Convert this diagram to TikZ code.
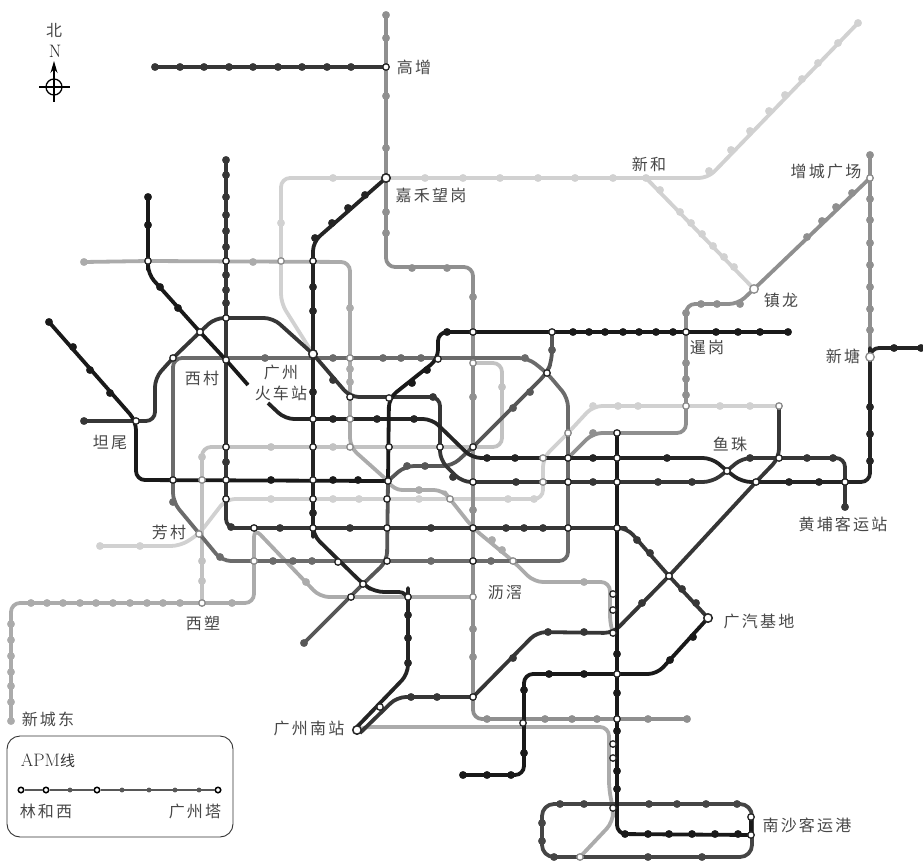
\documentclass[tikz,border=0pt]{standalone}
\usepackage{fontspec}
\usepackage{tikz}
\usetikzlibrary{arrows.meta}
\newfontfamily\cjk[LetterSpace=14]{Noto Sans CJK SC}
\definecolor{lnblack}{gray}{0.10}
\definecolor{lnink}{gray}{0.14}
\definecolor{lndark}{gray}{0.21}
\definecolor{lnloop}{gray}{0.27}
\definecolor{lnmid}{gray}{0.34}
\definecolor{lnring}{gray}{0.42}
\definecolor{lngray}{gray}{0.56}
\definecolor{lnsoft}{gray}{0.67}
\definecolor{lnhaze}{gray}{0.76}
\definecolor{lnpale}{gray}{0.82}
\newcommand{\stops}[2]{\path[draw=#1,fill=#1] plot[only marks,mark=*,mark size=3.7pt] coordinates {#2};}

\begin{document}
\begin{tikzpicture}[
  x=1pt, y=-1pt,
  metro/.style={line width=3.8pt, rounded corners=9pt, line join=round},
  hub/.style={circle, fill=white, draw=black!85, line width=1.3pt, inner sep=0pt, minimum size=6.5pt},
  hublt/.style={hub, draw=black!45},
  hubbig/.style={hub, minimum size=8.5pt, line width=1.5pt},
  ring/.style={circle, fill=white, draw=black, line width=1.5pt, inner sep=0pt, minimum size=5.5pt},
  lbl/.style={font=\fontsize{16}{21}\selectfont\cjk, text=black!72, align=center, inner sep=0pt}
]
\useasboundingbox (0,0) rectangle (923,861);

% stations
\foreach \n/\x/\y in {gaozeng/386/67, jiahe/386/178, xinhe/646/178, zengcheng/870/178, zhenlong/754/289,
  xiangang/686/332, xintang/870/357, tanwei/136/421, xicun/226/360, gzhuoche/313/354, yuzhu/727/471,
  huangpu/845/482, fangcun/199/534, xisu/202/603, lijiao/473/597, guangqi/708/618, gznan/357/730,
  nsa/751/817, nsb/751/835}
  {\coordinate (\n) at (\x,\y);}
\foreach \n/\x/\y in {a148/148/261, a226/226/261, a281/281/261, a313/313/261, b226/226/318, b200/200/332,
  c173/173/358, c350/350/358, c438/438/359, c473/473/332, c552/552/332, c547/547/373, d473/473/363,
  e389/389/398, e350/350/397, f313/313/419, f350/350/419, g226/226/447, g313/313/447, g350/350/447,
  g389/389/447, g440/440/447, g473/473/447, h568/568/433, h617/617/433, h687/686/406, h779/779/406,
  i173/173/480, i202/202/480, i226/226/480, i313/313/480, i387/388/481, j543/543/458, j568/568/458,
  j617/617/458, j779/779/458, k473/473/482, k543/543/482, k568/568/482, k617/617/482, k756/756/482,
  l226/226/499, l313/313/499, l387/387/499, l450/450/499, m254/254/528, m313/313/528, m387/387/528,
  m473/473/528, m568/568/528, m617/617/528, o254/254/561, o338/338/562, o387/387/561, o473/473/561,
  o513/513/561, p363/363/584, p351/351/597, p408/408/597, q669/669/576, q613a/613/594, q613b/613/610,
  q613c/613/633, r617/617/674, r473/473/697, r380/380/707, s617/617/719, s523/523/723, s613a/613/744,
  s613b/613/758, s613c/613/808, s580/580/857}
  {\coordinate (\n) at (\x,\y);}
% free line ends
\foreach \n/\x/\y in {endna/858/23, endnb/386/15, endnc/155/67, endnd/870/155, endne/790/332, endnf/923/348,
  endng/845/507, endnh/84/262, endni/84/421, endnj/49/322, endnk/148/197, endnl/226/160, endnm/248/385,
  endno/268/403, endnp/100/546, endnq/11/721, endnr/687/719, endns/304/643, endnt/463/775}
  {\coordinate (\n) at (\x,\y);}

% pale lines first
\draw[metro, lnpale] (endna) -- (708,178) -- (xinhe) -- (jiahe) -- (281,178) -- (281,303) -- (gzhuoche);
\draw[metro, lnpale] (xinhe) -- (zhenlong);
\draw[metro, lnpale] (endnp) -- (180,546) -- (fangcun) -- (l226) -- (l450) -- (543,499) -- (j543) -- (h568) -- (593,406) -- (h779);
\draw[metro, lnhaze] (d473) -- (502,363) -- (502,447) -- (202,447) -- (xisu);
\draw[metro, lnsoft] (endnq) -- (11,603) -- (xisu) -- (254,603) -- (m254) -- (320,597) -- (lijiao);
\draw[metro, lnsoft] (endnh) -- (a148) -- (350,262) -- (c350) -- (g350) -- (i387);
\draw[metro, lnsoft] (i387) -- (393,490) -- (443,490) -- (l450) -- (m473) -- (o513) -- (534,582) -- (610,582) -- (610,625) -- (q613c);
\draw[metro, lnsoft] (gznan) -- (362,727) -- (609,727) -- (609,790) -- (s613c) -- (613,822) -- (s580);
\draw[metro, lngray] (endnb) -- (gaozeng) -- (386,267) -- (473,267) -- (473,719) -- (endnr);
\draw[metro, lngray] (endnd) -- (zengcheng) -- (xintang);
\draw[metro, lngray] (zengcheng) -- (zhenlong) -- (738,304) -- (686,304) -- (686,433) -- (593,433) -- (j568);
% ring and the darker lines
\draw[metro, lnring] (c173) -- (528,358) -- (c547) -- (568,398) -- (568,561) -- (222,561) -- (173,502) -- cycle;
\draw[metro, lnmid] (c552) -- (552,360) -- (c547) -- (g473) -- (452,466) -- (405,466) -- (i387);
\draw[metro, lnmid] (i387) -- (o387) -- (p363) -- (endns);
\draw[metro, lnloop, rounded corners=12pt] (542,804) rectangle (752,857);
\draw[metro, lndark] (endnc) -- (gaozeng);
\draw[metro, lndark] (endnl) -- (226,528) -- (m617) -- (627,528) -- (q669) -- (guangqi);
\draw[metro, lndark] (r473) -- (537,632) -- (q613c) -- (q669) -- (k756) -- (j779) -- (h779);
\draw[metro, lndark] (r473) -- (397,697) -- (360,733);
\draw[metro, lndark] (endni) -- (155,421) -- (155,378) -- (c173) -- (b200) -- (215,318) -- (273,318) -- (gzhuoche) -- (e350) -- (440,397) -- (440,460) -- (462,482) -- (712,482) -- (yuzhu) -- (742,458) -- (845,458) -- (endng);
\draw[metro, lnink] (endno) -- (285,419) -- (432,419) -- (472,458) -- (712,458) -- (yuzhu) -- (742,482) -- (870,482) -- (xintang) -- (870,348) -- (endnf);
\draw[metro, lnink] (jiahe) -- (313,242) -- (m313) -- (313,535) -- (p363) -- (375,592) -- (408,592) -- (p408) -- (408,674) -- (355,729);
\draw[metro, lnblack] (endnj) -- (tanwei) -- (136,480) -- (i387);
\draw[metro, lnblack] (i387) -- (e389) -- (c438) -- (438,332) -- (endne);
\draw[metro, lnblack] (endnk) -- (a148) -- (148,274) -- (b200) -- (xicun) -- (endnm);
\draw[metro, lnblack] (guangqi) -- (657,674) -- (524,674) -- (524,775) -- (endnt);
\draw[metro, lnblack] (h617) -- (617,834) -- (nsb);
\draw[metro, lnblack] (nsa) -- (nsb);

% small stops along each line
\stops{lndark}{(155,67)(180,67)(204,67)(229,67)(253,67)(278,67)(302,67)(327,67)(351,67)}
\stops{lngray}{(386,15)(386,38)(386,96)(386,148)(386,212)(386,233)(412,268)(447,268)(473,297)(473,397)(473,510)(473,629)(473,657)(487,719)(545,719)(572,719)(597,719)(648,719)(687,719)}
\stops{lnpale}{(858,23)(838,43)(818,63)(802,79)(785,95)(769,111)(750,131)(731,150)(709,171)(646,178)(613,178)(575,178)(538,178)(500,178)(463,178)(425,178)(333,178)(281,223)}
\stops{lnpale}{(660,190)(680,212)(691,223)(702,234)(713,246)(724,257)(734,267)}
\stops{lnpale}{(100,546)(140,546)(271,499)(333,499)(359,499)(419,499)(508,499)(534,499)(593,406)(618,406)(638,406)(720,406)(750,406)}
\stops{lnhaze}{(271,447)(333,447)(502,387)(202,457)(202,561)(202,581)}
\stops{lnsoft}{(232,603)(180,603)(163,603)(147,603)(130,603)(113,603)(96,603)(80,603)(63,603)(47,603)(31,603)(11,624)(11,640)(11,656)(11,672)(11,686)(11,702)(11,721)(306,582)}
\stops{lnsoft}{(84,262)(253,262)(350,308)(350,369)(350,382)(419,490)(492,540)(502,550)(584,582)}
\stops{lngray}{(852,193)(836,207)(822,221)(807,237)(740,304)(717,304)(701,304)(686,313)(686,363)(686,379)(686,395)(593,433)}
\stops{lngray}{(870,155)(870,199)(870,220)(870,243)(870,265)(870,287)(870,309)(870,330)}
\stops{lnring}{(265,358)(333,358)(383,358)(401,358)(421,358)(525,358)(273,561)(293,561)(312,561)(431,561)(491,561)(173,502)(220,557)}
\stops{lnmid}{(552,350)(530,392)(513,408)(425,466)(407,466)(304,643)}
\stops{lnloop}{(560,804)(584,804)(649,804)(677,804)(706,804)(737,804)(542,823)(542,841)(554,857)(648,857)(702,857)}
\stops{lndark}{(226,160)(226,175)(226,197)(226,215)(226,231)(226,247)(226,275)(226,290)(226,303)(226,462)(231,527)(280,528)(350,528)(431,528)(506,528)(524,528)(543,528)(637,540)(650,553)(682,589)(696,603)}
\stops{lndark}{(513,658)(548,632)(584,632)(642,603)(411,697)(437,697)}
\stops{lndark}{(84,421)(333,380)(433,397)(453,477)(516,482)(593,482)(658,482)(692,482)(750,458)(807,458)(833,458)(845,507)}
\stops{lnink}{(870,407)(870,434)(870,461)(894,348)(921,348)(333,419)(377,419)(414,419)(487,458)(515,458)(593,458)(667,458)(789,482)(819,482)}
\stops{lnink}{(365,195)(348,208)(332,223)(315,238)(313,287)(313,311)(313,392)(313,513)(408,615)(408,638)(408,663)}
\stops{lnblack}{(49,322)(73,347)(90,370)(110,393)(271,480)(333,480)(358,480)(427,370)(412,383)(447,332)(573,332)(589,332)(605,332)(623,332)(639,332)(656,332)(673,332)(716,332)(738,332)(760,332)(788,332)}
\stops{lnblack}{(148,197)(148,225)(160,287)(178,308)}
\stops{lnblack}{(584,674)(549,674)(670,660)(693,637)(524,690)(524,753)(511,775)(487,775)(463,775)}
\stops{lnblack}{(617,654)(617,693)(617,731)(617,771)(617,789)(625,834)(648,834)(669,834)(692,834)(715,834)(738,834)}

% interchanges go on top
\foreach \n in {gaozeng, tanwei, xicun, yuzhu, huangpu, xiangang, a148, a226, a313, b226, b200, c173, c438, c473, c552, c547, e389, e350, f313, g226, g313, g389, g440, g473, h617, i173, i226, i313, i387, j568, j617, j779, k473, k568, k617, k756, l226, l313, l387, m254, m313, m387, m473, m568, m617, o338, o387, o473, p363, p351, p408, q669, q613a, q613b, q613c, r617, r473, r380, s617, s523, s613a, s613b, s613c, nsa, nsb}
  {\node[hub] (\n-st) at (\n) {};}
\foreach \n in {a281, c350, d473, f350, g350, h568, h687, h779, i202, j543, k543, l450, o254, o513, fangcun, xisu, lijiao, s580, zengcheng}
  {\node[hublt] (\n-st) at (\n) {};}
\foreach \n in {jiahe, gzhuoche, guangqi, gznan}
  {\node[hubbig] (\n-st) at (\n) {};}
\node[hublt, minimum size=8.5pt] (zhenlong-st) at (zhenlong) {};
\node[hublt, minimum size=8.5pt] (xintang-st) at (xintang) {};

% station names
\node[lbl] (lgaozeng) at (414,67) {高增};
\node[lbl] (ljiahe) at (431,195) {嘉禾望岗};
\node[lbl] (lxinhe) at (649,164) {新和};
\node[lbl] (lzengcheng) at (826,171) {增城广场};
\node[lbl] (lzhenlong) at (781,300) {镇龙};
\node[lbl] (lxiangang) at (707,347) {暹岗};
\node[lbl] (lxintang) at (843,356) {新塘};
\node[lbl] (lyuzhu) at (730,444) {鱼珠};
\node[lbl] (lhuangpu) at (843,524) {黄埔客运站};
\node[lbl] (lguangqi) at (759,621) {广汽基地};
\node[lbl] (llijiao) at (505,593) {沥滘};
\node[lbl] (lnansha) at (807,825) {南沙客运港};
\node[lbl] (lgznan) at (309,728) {广州南站};
\node[lbl] (lxisu) at (203,623) {西塑};
\node[lbl] (lfangcun) at (169,532) {芳村};
\node[lbl] (ltanwei) at (110,442) {坦尾};
\node[lbl] (lxicun) at (202,378) {西村};
\node[lbl] (lhuoche) at (281,383) {广州\\火车站};
\node[lbl] (lxinchengdong) at (48,719) {新城东};

% north mark
\node[lbl] (lbei) at (54,30) {北};
\node[font=\fontsize{18}{20}\selectfont, text=black!85, inner sep=0pt] (lnorth) at (55,51) {N};
\coordinate (compass) at (54,87);
\draw[line width=1.3pt] (compass) circle (8);
\draw[line width=1.3pt] (39,87) -- (70,87);
\draw[line width=1.3pt] (54,102) -- (compass);
\draw[-{Stealth[length=12pt,width=7pt]}, line width=1.5pt] (compass) -- (54,61);

% APM box
\node[draw=black!80, line width=.9pt, rounded corners=13pt, minimum width=226pt, minimum height=101pt, inner sep=0pt] (apmbox) at (120,786.5) {};
\node[font=\fontsize{18}{20}\selectfont, text=black!80, inner sep=0pt] (lapm) at (48,761) {APM{\fontsize{15}{17}\selectfont\cjk 线}};
\node[ring] (linhexi) at (21,790) {};
\node[ring] (apmb) at (46,790) {};
\node[ring] (apmc) at (97,790) {};
\node[ring] (canton) at (218,790) {};
\draw[line width=2.6pt, lnmid] (linhexi) -- (apmb);
\draw[line width=2.6pt, lnmid] (apmb) -- (apmc);
\draw[line width=2.6pt, lnmid] (apmc) -- (canton);
\path[draw=lnmid,fill=lnmid] plot[only marks,mark=*,mark size=2.2pt] coordinates {(70,790)(122,790)(149,790)(175,790)(199,790)};
\node[lbl] (llinhexi) at (46,811) {林和西};
\node[lbl] (lcanton) at (195,811) {广州塔};
\end{tikzpicture}
\end{document}
